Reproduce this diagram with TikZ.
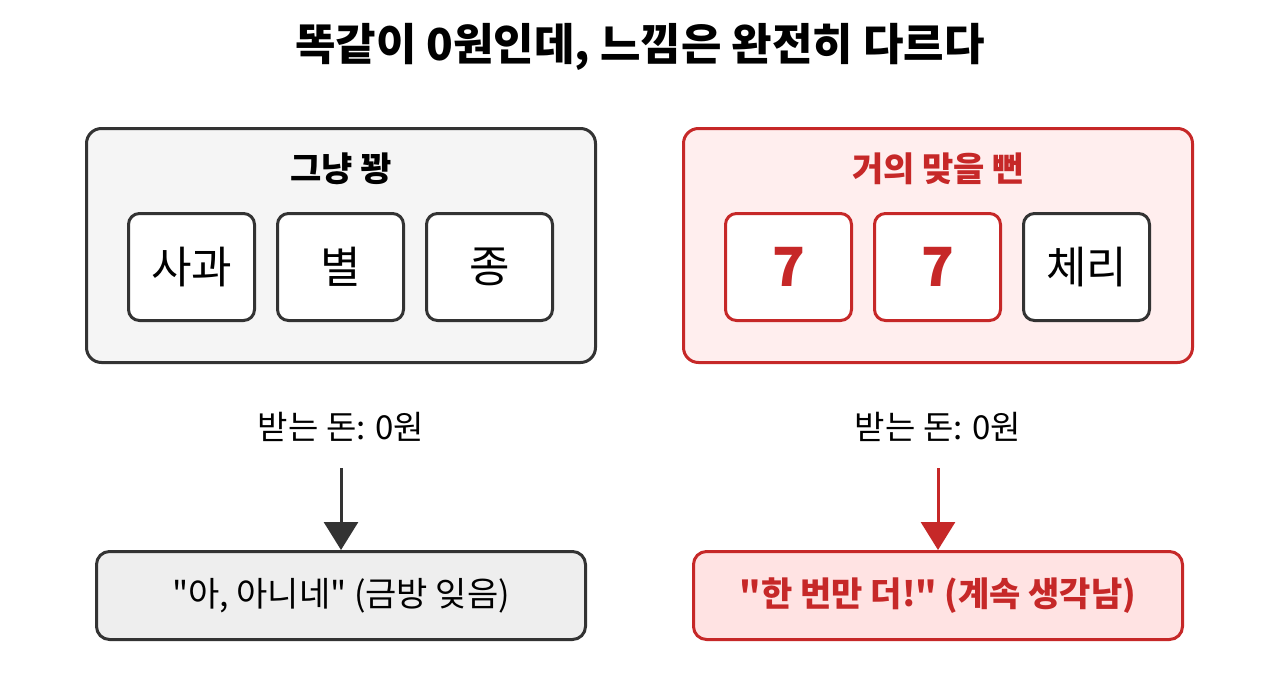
\documentclass[tikz,border=0pt]{standalone}
\usepackage{fontspec}
\setmainfont{Noto Sans CJK KR}[Ligatures=TeXOff]
\usetikzlibrary{arrows.meta}
\definecolor{dk}{HTML}{333333}
\definecolor{rd}{HTML}{C62828}
\definecolor{lfill}{HTML}{F5F5F5}
\definecolor{lbot}{HTML}{EEEEEE}
\definecolor{rfill}{HTML}{FFEEEE}
\definecolor{rbot}{HTML}{FFE3E3}
\tikzset{
  panel/.style={draw, line width=3pt, rounded corners=15pt, minimum width=509pt, minimum height=234pt, anchor=north west},
  cell/.style={draw, line width=3pt, fill=white, rounded corners=11pt, minimum width=126pt, minimum height=107pt, anchor=north west, font=\fontsize{44}{48}\selectfont},
  result/.style={draw, line width=3pt, rounded corners=13pt, minimum width=489pt, minimum height=88pt, anchor=north west, font=\fontsize{34}{38}\selectfont},
  heading/.style={font=\fontsize{34}{38}\selectfont\bfseries},
  money/.style={font=\fontsize{33}{36}\selectfont, text=black},
  seven/.style={font=\fontsize{54}{58}\selectfont\bfseries, text=rd},
  flow/.style={line width=3pt, -{Triangle[width=34pt,length=28pt]}},
}
\begin{document}
\begin{tikzpicture}[x=1pt,y=-1pt]
\useasboundingbox[fill=white] (0,0) rectangle (1280,683);
\node[font=\fontsize{44}{48}\selectfont\bfseries] (title) at (640,47) {똑같이 0원인데, 느낌은 완전히 다르다};
% left panel
\node[panel, draw=dk, fill=lfill] (lp) at (85,127) {};
\node[heading, text=black] (lh) at (341,169) {그냥 꽝};
\node[cell, draw=dk] (l1) at (127,212) {사과};
\node[cell, draw=dk] (l2) at (276,212) {별};
\node[cell, draw=dk] (l3) at (425,212) {종};
% right panel
\node[panel, draw=rd, fill=rfill] (rp) at (682,127) {};
\node[heading, text=rd] (rh) at (938,169) {거의 맞을 뻔};
\node[cell, draw=rd, seven] (r1) at (724,212) {7};
\node[cell, draw=rd, seven] (r2) at (873,212) {7};
\node[cell, draw=dk] (r3) at (1022,212) {체리};
% money labels
\node[money] (lm) at (341,427) {받는 돈: 0원};
\node[money] (rm) at (938,427) {받는 돈: 0원};
% results
\node[result, draw=dk, fill=lbot] (lr) at (95,550) {"아, 아니네" (금방 잊음)};
\node[result, draw=rd, fill=rbot, text=rd, font=\fontsize{34}{38}\selectfont\bfseries] (rr) at (692,550) {"한 번만 더!" (계속 생각남)};
% arrows
\coordinate (la) at ([yshift=-23pt]lm.south);
\coordinate (ra) at ([yshift=-23pt]rm.south);
\draw[flow, draw=dk, fill=dk] (la) -- (la |- lr.north);
\draw[flow, draw=rd, fill=rd] (ra) -- (ra |- rr.north);
\end{tikzpicture}
\end{document}
